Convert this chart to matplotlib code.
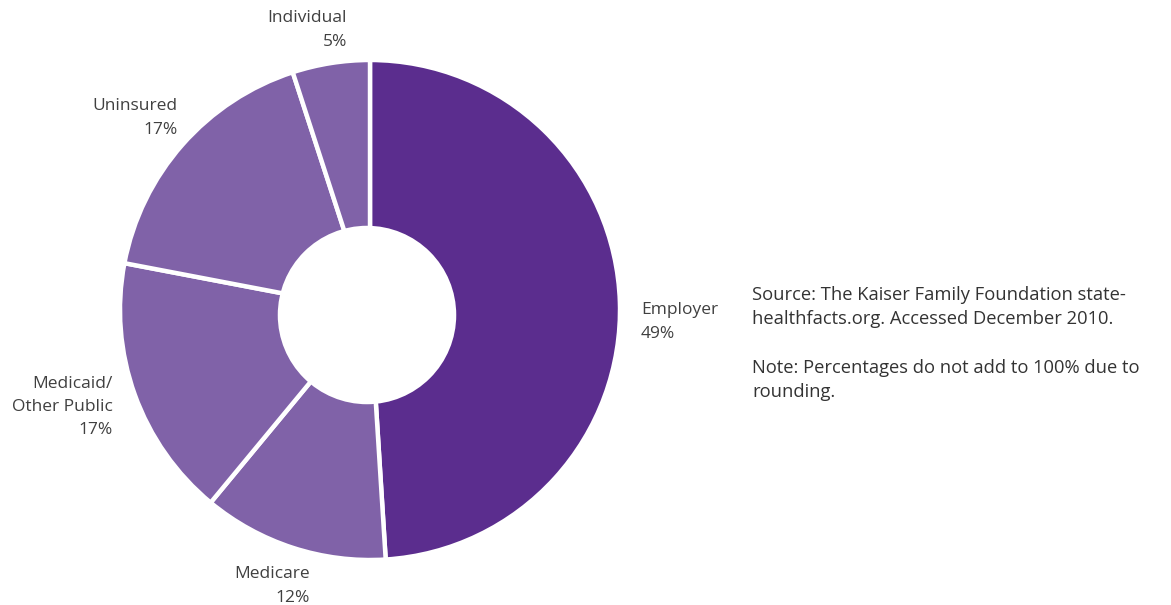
import matplotlib.pyplot as plt
from matplotlib.patches import Circle

# data
categories = ['Employer', 'Medicare', 'Medicaid/\nOther Public', 'Uninsured', 'Individual']
shares = [49, 12, 17, 17, 5]
colors = ['#5B2D8E', '#8062A8', '#8062A8', '#8062A8', '#8062A8']

# label anchor positions (pie units, radius = 1) and alignment
label_pos = [(1.084, -0.048), (-0.24, -1.104), (-1.028, -0.388), (-0.768, 0.768), (-0.092, 1.12)]
label_ha = ['left', 'right', 'right', 'right', 'right']

note = ("Source: The Kaiser Family Foundation state-\n"
        "healthfacts.org. Accessed December 2010.\n\n"
        "Note: Percentages do not add to 100% due to\n"
        "rounding.")

plt.rcParams['font.family'] = ['Open Sans', 'DejaVu Sans']

W, H = 1171, 605
fig = plt.figure(figsize=(W / 100, H / 100), dpi=100)
# pie centre at (370, 310) px from top, radius 250 px
ax = fig.add_axes([(370 - 300) / W, (H - 310 - 300) / H, 600 / W, 600 / H])

ax.pie(shares, colors=colors, startangle=90, counterclock=False, radius=1,
       wedgeprops=dict(edgecolor='white', linewidth=3.2))
ax.add_patch(Circle((-0.012, -0.02), 0.357, facecolor='white', edgecolor='none', zorder=5))
ax.set_xlim(-1.2, 1.2)
ax.set_ylim(-1.2, 1.2)
ax.axis('off')

for cat, val, (x, y), ha in zip(categories, shares, label_pos, label_ha):
    ax.text(x, y, f'{cat}\n{val}%', ha=ha, va='center', multialignment=ha,
            fontsize=12.5, color='#404040', linespacing=1.6, clip_on=False)

fig.text(752 / W, 1 - 286 / H, note, ha='left', va='top', fontsize=13.2,
         color='#333333', linespacing=1.45)

fig.savefig('out.png', dpi=100, facecolor='white')
